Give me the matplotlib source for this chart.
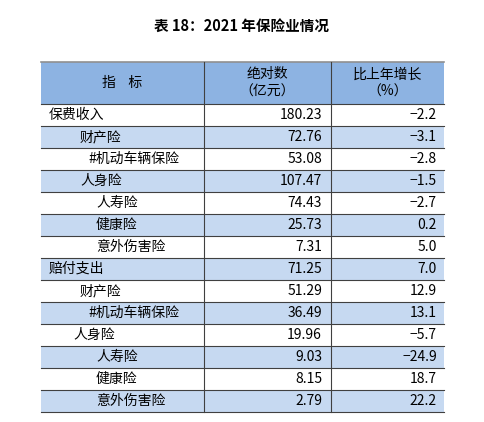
import matplotlib
matplotlib.use("Agg")
import matplotlib.pyplot as plt
from matplotlib.patches import Rectangle

plt.rcParams['font.family'] = ['Noto Sans CJK SC', 'DejaVu Sans']

title = "表 18：2021 年保险业情况"
headers = ["指    标", "绝对数\n（亿元）", "比上年增长\n（%）"]
items = ["保费收入", "财产险", "#机动车辆保险", "人身险", "人寿险", "健康险", "意外伤害险",
         "赔付支出", "财产险", "#机动车辆保险", "人身险", "人寿险", "健康险", "意外伤害险"]
indent = [0, 31, 39, 31, 47, 47, 47, 0, 31, 39, 24, 47, 47, 47]
values = ["180.23", "72.76", "53.08", "107.47", "74.43", "25.73", "7.31",
          "71.25", "51.29", "36.49", "19.96", "9.03", "8.15", "2.79"]
growth = ["-2.2", "-3.1", "-2.8", "-1.5", "-2.7", "0.2", "5.0",
          "7.0", "12.9", "13.1", "-5.7", "-24.9", "18.7", "22.2"]

fig = plt.figure(figsize=(4.84, 4.22), dpi=100)
ax = fig.add_axes([0, 0, 1, 1])
ax.set_xlim(0, 484); ax.set_ylim(422, 0); ax.axis('off')

x0, x1, x2, x3 = 41, 204, 331, 444
ytop, yh = 62, 104
rh = (412 - yh) / len(items)
head_c, light_c, line_c = "#8DB3E2", "#C6D9F1", "#404040"

ax.text(242, 26, title, ha='center', va='center', fontsize=10.5, fontweight='bold')
ax.add_patch(Rectangle((x0, ytop), x3 - x0, yh - ytop, fc=head_c, ec='none'))
for i in range(len(items)):
    y = yh + i * rh
    if i % 2 == 1:
        ax.add_patch(Rectangle((x0, y), x3 - x0, rh, fc=light_c, ec='none'))
    ax.text(x0 + 8 + indent[i], y + rh / 2, items[i], ha='left', va='center', fontsize=10)
    ax.text(x2 - 9, y + rh / 2, values[i].replace('-', '−'), ha='right', va='center', fontsize=10)
    ax.text(x3 - 7, y + rh / 2, growth[i].replace('-', '−'), ha='right', va='center', fontsize=10)
    ax.plot([x0, x3], [y, y], color=line_c, lw=0.8)
ax.plot([x0, x3], [412, 412], color=line_c, lw=0.8)
ax.plot([x0, x3], [ytop, ytop], color='#909090', lw=1.2)
for xx in (x1, x2):
    ax.plot([xx, xx], [ytop, 412], color=line_c, lw=0.8)

ax.text((x0 + x1) / 2, (ytop + yh) / 2, headers[0], ha='center', va='center', fontsize=10)
ax.text((x1 + x2) / 2, (ytop + yh) / 2, headers[1], ha='center', va='center', fontsize=10, linespacing=1.3)
ax.text((x2 + x3) / 2, (ytop + yh) / 2, headers[2], ha='center', va='center', fontsize=10, linespacing=1.3)

fig.savefig("out.png", dpi=100, facecolor='white')
